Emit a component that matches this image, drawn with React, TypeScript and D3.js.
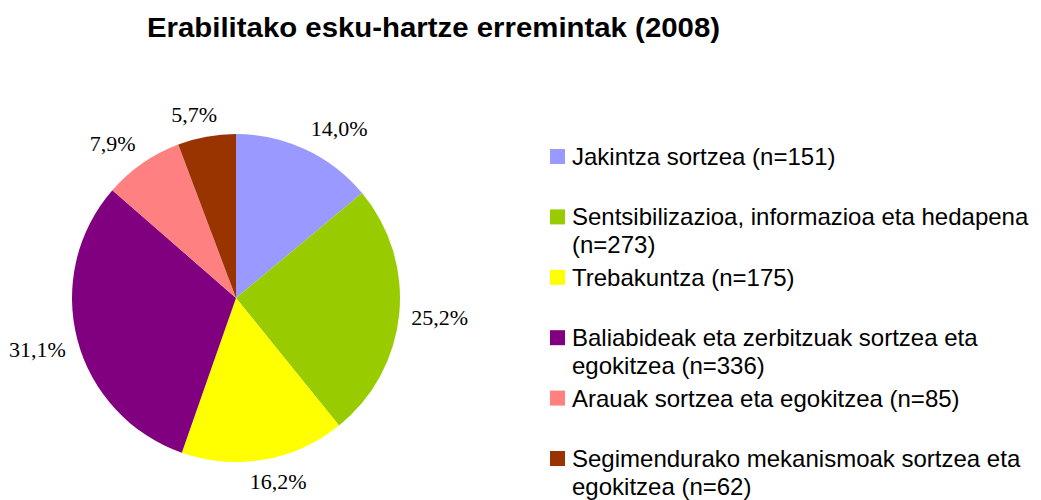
import React from "react";
import * as d3 from "d3";

const title = "Erabilitako esku-hartze erremintak (2008)";
const categories = [
  "Jakintza sortzea (n=151)",
  "Sentsibilizazioa, informazioa eta hedapena (n=273)",
  "Trebakuntza (n=175)",
  "Baliabideak eta zerbitzuak sortzea eta egokitzea (n=336)",
  "Arauak sortzea eta egokitzea (n=85)",
  "Segimendurako mekanismoak sortzea eta egokitzea (n=62)",
];
const counts = [151, 273, 175, 336, 85, 62];
const percentLabels = ["14,0%", "25,2%", "16,2%", "31,1%", "7,9%", "5,7%"];
const colors = ["#9999FF", "#99CC00", "#FFFF00", "#800080", "#FF8080", "#993300"];

const W = 1041;
const H = 500;
const cx = 236;
const cy = 298;
const R = 164;
const labelFont = "22px 'Liberation Serif', 'Times New Roman', serif";
const legendFont = "24px 'Liberation Sans', Arial, sans-serif";

let ctx: CanvasRenderingContext2D | null = null;
function measure(text: string, font: string): number {
  if (!ctx) ctx = document.createElement("canvas").getContext("2d");
  if (!ctx) return text.length * 10;
  ctx.font = font;
  return ctx.measureText(text).width;
}

function wrap(text: string, maxW: number, font: string): string[] {
  const words = text.split(" ");
  const lines: string[] = [];
  let cur = "";
  for (const w of words) {
    const t = cur ? cur + " " + w : w;
    if (cur && measure(t, font) > maxW) {
      lines.push(cur);
      cur = w;
    } else cur = t;
  }
  if (cur) lines.push(cur);
  return lines;
}

export default function App() {
  const pie = d3.pie<number>().sort(null).value((d) => d);
  const arcs = pie(counts);
  const arcGen = d3.arc<d3.PieArcDatum<number>>().innerRadius(0).outerRadius(R);

  const legendX = 550;
  const legendY0 = 165;
  const legendStep = 60.4;
  const lineH = 28;

  return (
    <svg
      width={W}
      height={H}
      style={{ position: "absolute", left: 0, top: 0, background: "#fff" }}
    >
      <text
        x={147}
        y={37}
        textLength={573}
        lengthAdjust="spacingAndGlyphs"
        style={{ font: "bold 28px 'Liberation Sans', Arial, sans-serif" }}
        fill="#000"
      >
        {title}
      </text>
      <g transform={`translate(${cx},${cy})`}>
        {arcs.map((a, i) => (
          <path key={i} d={arcGen(a) || ""} fill={colors[i]} />
        ))}
      </g>
      {arcs.map((a, i) => {
        const mid = (a.startAngle + a.endAngle) / 2;
        const ux = Math.sin(mid);
        const uy = -Math.cos(mid);
        const d = 176;
        const px = cx + ux * d;
        const py = cy + uy * d;
        const w = measure(percentLabels[i], labelFont);
        const h = 20;
        const fx = Math.max(-1, Math.min(1, ux * 2.5));
        const fy = Math.max(-1, Math.min(1, uy * 2.5));
        const bx = px + (fx * w) / 2;
        const by = py + (fy * h) / 2;
        return (
          <text
            key={i}
            x={bx}
            y={by + 7.5}
            textAnchor="middle"
            style={{ font: labelFont }}
            fill="#000"
          >
            {percentLabels[i]}
          </text>
        );
      })}
      {categories.map((c, i) => {
        const base = legendY0 + i * legendStep;
        const lines = wrap(c, 470, legendFont);
        return (
          <g key={i}>
            <rect x={legendX} y={base - 16} width={15} height={15} fill={colors[i]} />
            {lines.map((ln, j) => (
              <text
                key={j}
                x={legendX + 22}
                y={base + j * lineH}
                style={{ font: legendFont }}
                fill="#000"
              >
                {ln}
              </text>
            ))}
          </g>
        );
      })}
    </svg>
  );
}
